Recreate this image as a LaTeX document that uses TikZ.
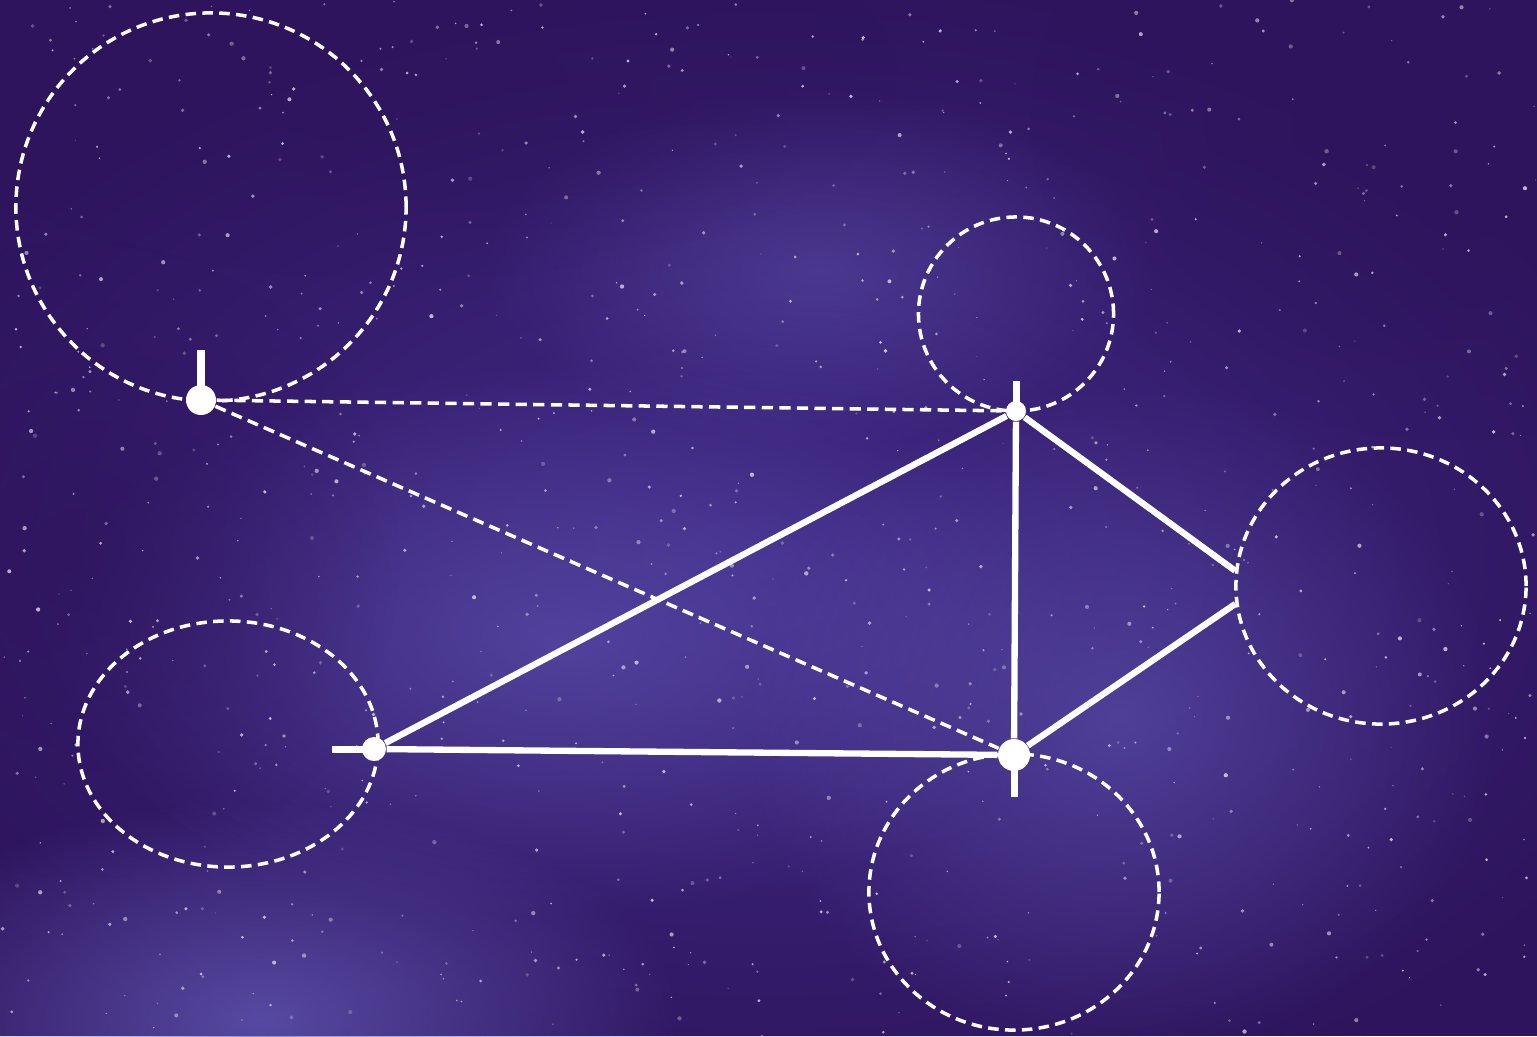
\documentclass[tikz,border=0pt]{standalone}
\usepackage{tikz}
\usetikzlibrary{shapes.geometric, positioning, fadings, calc}
\usepackage{xcolor}
\definecolor{skydark}{RGB}{46,20,92}
\definecolor{skymid}{RGB}{66,44,138}
\definecolor{skyglow}{RGB}{104,96,190}
\tikzfading[name=softglow, inner color=transparent!0, outer color=transparent!100]

\begin{document}
\begin{tikzpicture}[x=0.01cm, y=-0.01cm,
    orbit/.style={ellipse, draw=white, line width=1pt, dash pattern=on 3pt off 1.8pt, inner sep=0pt},
    starnode/.style={circle, fill=white, inner sep=0pt},
    link/.style={white, line width=1.8pt},
    dashlink/.style={white, line width=1pt, dash pattern=on 3.2pt off 1.8pt},
    stem/.style={white, line width=2pt},
    glow/.style={path fading=softglow}]

    % --- Sky ---
    \fill[skydark] (0,0) rectangle (1537,1036);
    \useasboundingbox (0,0) rectangle (1537,1036);
    \begin{scope}
        \clip (0,0) rectangle (1537,1036);
        \fill[skymid, opacity=0.9, glow] (760,560) ellipse [x radius=1000, y radius=600];
        \fill[skyglow, opacity=0.5, glow] (560,640) ellipse [x radius=520, y radius=280];
        \fill[skyglow, opacity=0.5, glow] (1120,720) ellipse [x radius=380, y radius=340];
        \fill[skyglow, opacity=0.7, glow] (260,1020) ellipse [x radius=420, y radius=220];
        \fill[skyglow, opacity=0.4, glow] (820,270) ellipse [x radius=340, y radius=180];
        \fill[skydark, opacity=0.8, glow] (1450,120) ellipse [x radius=420, y radius=320];
        \fill[skydark, opacity=0.6, glow] (80,560) ellipse [x radius=320, y radius=320];
        \fill[skydark, opacity=0.5, glow] (400,80) ellipse [x radius=500, y radius=200];
        % Gwiazdy w tle
        \pgfmathsetseed{4242}
        \foreach \i in {1,...,900} {
            \pgfmathsetmacro{\sx}{rnd*1537}
            \pgfmathsetmacro{\sy}{rnd*1036}
            \pgfmathsetmacro{\sr}{0.6+rnd*1.6}
            \pgfmathsetmacro{\so}{0.2+rnd*0.5}
            \fill[white, opacity=\so] (\sx,\sy) circle [radius=\sr];
        }
    \end{scope}

    % --- Orbits ---
    \node[orbit, minimum width=3.9cm, minimum height=3.88cm] (orbA) at (211,207) {};
    \node[orbit, minimum width=1.95cm, minimum height=1.94cm] (orbB) at (1016,314) {};
    \node[orbit, minimum width=2.9cm, minimum height=2.76cm] (orbC) at (1381,586) {};
    \node[orbit, minimum width=3.0cm, minimum height=2.46cm] (orbD) at (228,744) {};
    \node[orbit, minimum width=2.9cm, minimum height=2.76cm] (orbE) at (1014,892) {};

    % --- Stars ---
    \node[starnode, minimum size=0.3cm] (a) at (201,400) {};
    \node[starnode, minimum size=0.2cm] (b) at (1016,411) {};
    \node[starnode, minimum size=0.24cm] (d) at (374,749) {};
    \node[starnode, minimum size=0.32cm] (e) at (1014,755) {};
    \coordinate (c1) at (orbC.174);
    \coordinate (c2) at (orbC.187);

    % --- Stems ---
    \draw[stem] (a.center) -- ++(0,-50);
    \draw[stem] (b.center) -- ++(0,-30);
    \draw[stem] (d.center) -- ++(-42,0);
    \draw[stem] (e.center) -- ++(0,42);

    % --- Dashed links ---
    \draw[dashlink] (a) -- (b);
    \draw[dashlink] (a) -- (e);

    % --- Solid links ---
    \draw[link] (d) -- (b);
    \draw[link] (d) -- (e);
    \draw[link] (b) -- (e);
    \draw[link] (b) -- (c1);
    \draw[link] (e) -- (c2);

\end{tikzpicture}
\end{document}
